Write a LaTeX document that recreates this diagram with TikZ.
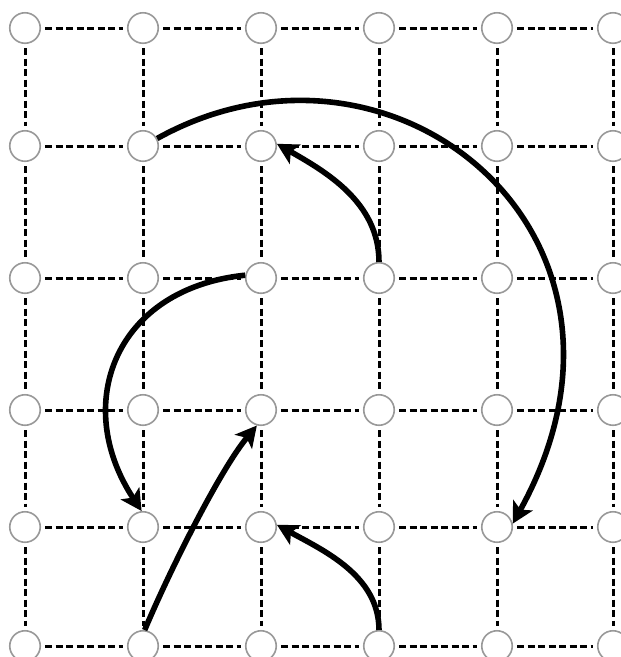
\documentclass[tikz,border=0pt]{standalone}
\usetikzlibrary{arrows.meta}
\begin{document}
\begin{tikzpicture}[x=1pt,y=-1pt,
  dot/.style={circle,draw=black!40,line width=1.6pt,fill=white,minimum size=30.5pt,inner sep=0pt},
  gridline/.style={line width=3pt,dash pattern=on 7pt off 3.5pt,shorten >=4pt,shorten <=4pt},
  arr/.style={line width=5.6pt,-{Stealth[length=21pt,width=22pt,inset=5pt]}}]
\useasboundingbox (0,0) rectangle (621,657);
\foreach \c/\x in {1/25,2/143,3/261,4/379,5/497,6/613}{
  \foreach \r/\y in {1/28,2/146,3/278,4/410,5/527,6/646}{
    \node[dot] (n\r\c) at (\x,\y) {};
  }
}
\foreach \r in {1,...,6}{
  \foreach \c in {1,...,5}{
    \pgfmathtruncatemacro{\nxt}{\c+1}
    \draw[gridline] (n\r\c) -- (n\r\nxt);
  }
}
\foreach \c in {1,...,6}{
  \foreach \r in {1,...,5}{
    \pgfmathtruncatemacro{\nxt}{\r+1}
    \draw[gridline] (n\r\c) -- (n\nxt\c);
  }
}
\draw[arr] (n22.28) .. controls +(236,-131) and +(160,-289) .. (n55.12);
\draw[arr] (n34.north) .. controls +(0,-60) and +(48,27.5) .. (n23.8);
\draw[arr] (n64.north) .. controls +(0,-55) and +(45,25) .. (n53.8);
\draw[arr] (n33.170) .. controls +(-129,13) and +(-71,-108) .. (n52.95);
\draw[arr] (n62.84) .. controls +(23,-55) and +(-38,46) .. (n43.-105);
\end{tikzpicture}
\end{document}
